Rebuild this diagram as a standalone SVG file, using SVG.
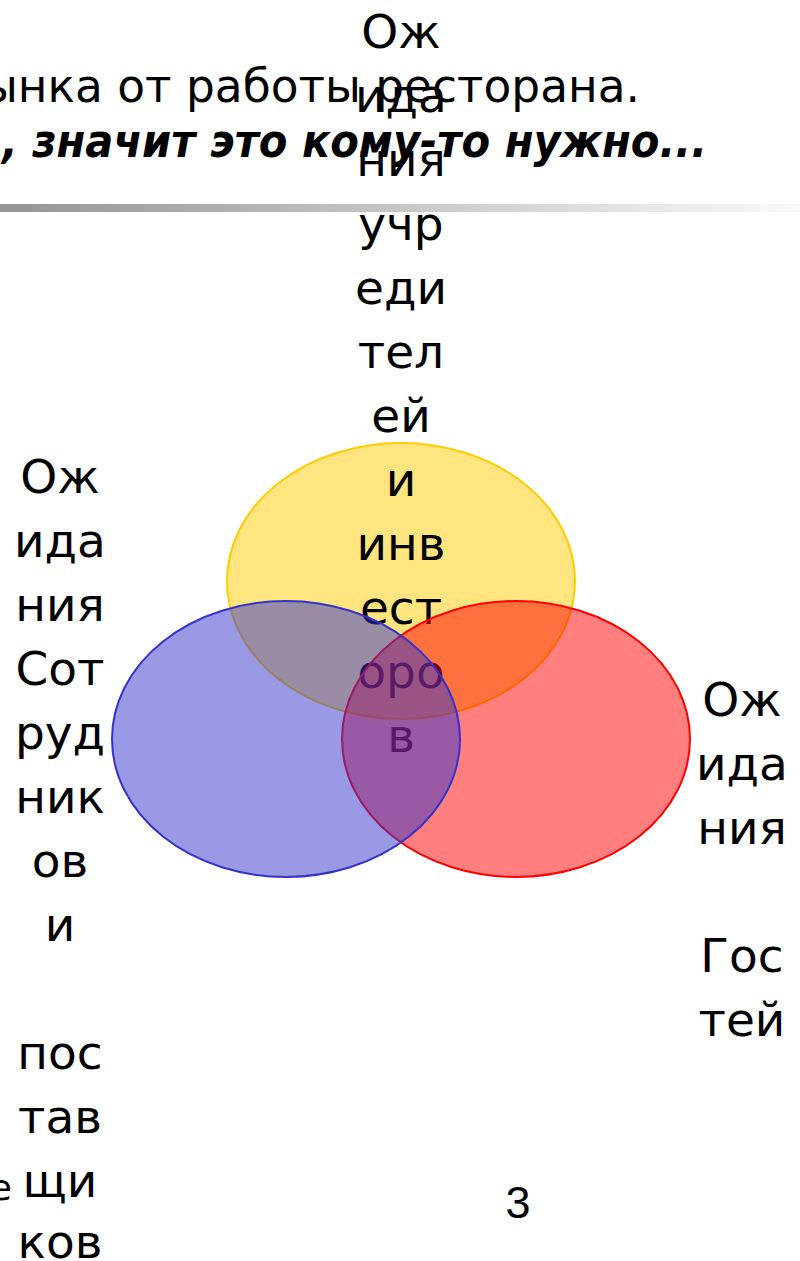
<svg xmlns="http://www.w3.org/2000/svg" width="800" height="1261" viewBox="0 0 800 1261">
<defs>
<linearGradient id="bar" x1="0" y1="0" x2="1" y2="0">
<stop offset="0" stop-color="#939393"/>
<stop offset="1" stop-color="#fafafa"/>
</linearGradient>
<style>
.t{font-family:"DejaVu Sans","Noto Sans",sans-serif;font-size:46px;fill:#000}
.c{font-family:"DejaVu Sans","Noto Sans",sans-serif;font-size:47px;fill:#000;text-anchor:middle}
.e{stroke-width:2}
</style>
</defs>
<rect width="800" height="1261" fill="#fff"/>
<g id="title">
<text class="t" x="-18" y="102" textLength="658" lengthAdjust="spacingAndGlyphs">ынка от работы ресторана.</text>
<text class="t" x="2" y="157" textLength="705" lengthAdjust="spacingAndGlyphs" font-weight="bold" font-style="italic">, значит это кому-то нужно...</text>
<rect x="0" y="204" width="800" height="8" fill="url(#bar)"/>
</g>
<g id="founders">
<ellipse class="e" cx="401" cy="581" rx="174" ry="138" fill="#FFCC00" fill-opacity="0.5" stroke="#FFCC00"/>
<text class="c"><tspan x="401" y="48">Ож</tspan><tspan x="401" y="112">ида</tspan><tspan x="401" y="176">ния</tspan><tspan x="401" y="240">учр</tspan><tspan x="401" y="304">еди</tspan><tspan x="401" y="368">тел</tspan><tspan x="401" y="432">ей</tspan><tspan x="401" y="496">и</tspan><tspan x="401" y="560">инв</tspan><tspan x="401" y="624">ест</tspan><tspan x="401" y="688">оро</tspan><tspan x="401" y="752">в</tspan></text>
</g>
<g id="guests">
<ellipse class="e" cx="516" cy="739" rx="174" ry="138" fill="#FF0000" fill-opacity="0.5" stroke="#FF0000"/>
<text class="c"><tspan x="742" y="716">Ож</tspan><tspan x="742" y="780">ида</tspan><tspan x="742" y="844">ния</tspan><tspan x="742" y="972">Гос</tspan><tspan x="742" y="1036">тей</tspan></text>
</g>
<g id="staff">
<ellipse class="e" cx="286" cy="739" rx="174" ry="138" fill="#3333CC" fill-opacity="0.5" stroke="#3333CC"/>
<text class="c"><tspan x="60" y="493">Ож</tspan><tspan x="60" y="557">ида</tspan><tspan x="60" y="621">ния</tspan><tspan x="60" y="685">Сот</tspan><tspan x="60" y="749">руд</tspan><tspan x="60" y="813">ник</tspan><tspan x="60" y="877">ов</tspan><tspan x="60" y="941">и</tspan><tspan x="60" y="1069">пос</tspan><tspan x="60" y="1133">тав</tspan><tspan x="60" y="1197">щи</tspan><tspan x="60" y="1258">ков</tspan></text>
</g>
<g id="footer">
<text x="12" y="1200" text-anchor="end" font-family="DejaVu Sans, sans-serif" font-size="36">е</text>
<text x="518" y="1218" text-anchor="middle" font-family="Liberation Sans, Arial, sans-serif" font-size="45">3</text>
</g>
</svg>
